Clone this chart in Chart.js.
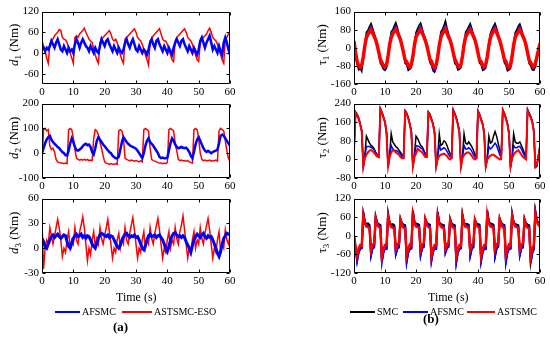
<!DOCTYPE html>
<html>
<head>
<meta charset="utf-8">
<script src="https://cdn.jsdelivr.net/npm/chart.js@4.4.1/dist/chart.umd.min.js"></script>
<style>
  body { margin: 0; background: #fff; }
  #wrap { position: relative; width: 550px; height: 342px; font-family: "Liberation Serif", serif; color: #000; }
  canvas { position: absolute; }
  .t { position: absolute; white-space: nowrap; line-height: 1; }
  .ln { position: absolute; height: 2px; }
</style>
</head>
<body>
<div id="wrap">
  <canvas id="d1" width="240" height="98" style="left:0;top:2px"></canvas>
  <canvas id="d2" width="240" height="100" style="left:0;top:94px"></canvas>
  <canvas id="d3" width="240" height="100" style="left:0;top:189px"></canvas>
  <canvas id="tau1" width="250" height="98" style="left:300px;top:2px"></canvas>
  <canvas id="tau2" width="250" height="100" style="left:300px;top:94px"></canvas>
  <canvas id="tau3" width="250" height="100" style="left:300px;top:189px"></canvas>

  <div class="t" style="left:116px;top:291px;font-size:12px">Time (s)</div>
  <div class="t" style="left:428px;top:291px;font-size:12px">Time (s)</div>

  <div class="ln" style="left:55px;top:311px;width:25px;background:#0000ff"></div>
  <div class="t" style="left:82px;top:307px;font-size:10px">AFSMC</div>
  <div class="ln" style="left:122px;top:311px;width:30px;background:#ff0000;height:1.5px"></div>
  <div class="t" style="left:154px;top:307px;font-size:10px">ASTSMC-ESO</div>

  <div class="ln" style="left:350px;top:311px;width:25px;background:#000"></div>
  <div class="t" style="left:377px;top:307px;font-size:10px">SMC</div>
  <div class="ln" style="left:403px;top:311px;width:25px;background:#0000ff"></div>
  <div class="t" style="left:430px;top:307px;font-size:10px">AFSMC</div>
  <div class="ln" style="left:467px;top:311px;width:28px;background:#ff0000"></div>
  <div class="t" style="left:497px;top:307px;font-size:10px">ASTSMC</div>

  <div class="t" style="left:113px;top:320px;font-size:13px;font-weight:bold">(a)</div>
  <div class="t" style="left:423px;top:312px;font-size:13px;font-weight:bold">(b)</div>
</div>

<script>
// sample step of the recorded signals (s)
var step = 0.5;

// left column: disturbance estimates
var d1AFSMC = [10,15,5,15,10,20,35,25,15,30,40,25,10,5,20,10,0,15,5,10,
  0,25,40,30,15,30,40,30,20,15,5,20,10,0,15,5,0,20,40,30,
  20,35,40,25,15,5,20,10,0,15,5,0,10,30,40,25,15,30,40,25,
  10,5,20,10,0,10,5,-5,10,30,40,25,15,35,40,25,15,5,20,10,
  0,15,5,-5,15,30,40,30,20,35,40,25,15,5,20,10,0,15,5,-5,
  10,35,45,30,15,30,40,50,30,10,20,10,0,20,5,-5,30,45,30,10,-5];
var d1ESO = [35,20,5,-15,-30,25,35,40,50,55,60,68,65,45,40,38,30,15,0,-15,
  -30,45,50,45,55,60,65,72,60,50,40,35,30,10,-5,-20,-30,30,40,45,
  50,55,60,65,55,40,35,40,30,10,-5,-20,-30,40,45,50,55,60,65,70,
  60,45,40,35,25,10,-5,-20,-35,35,40,50,55,60,65,70,55,40,35,35,
  25,10,-5,-20,-25,35,45,50,55,60,65,70,60,45,40,35,25,10,-5,-20,
  -25,30,40,45,50,55,65,72,60,45,40,35,25,10,-5,-20,-30,40,45,55,60];

var d2AFSMC = [0,20,40,55,65,70,55,45,38,32,25,20,12,5,0,-8,-10,10,40,60,
  45,25,12,10,15,20,28,35,38,32,35,25,5,-5,20,50,65,55,45,35,
  28,20,12,5,0,-10,-15,-20,-20,-15,15,45,65,55,45,38,32,28,25,22,
  18,10,0,-10,-20,0,30,50,60,45,38,30,20,10,0,-15,-20,-18,-20,-20,
  -18,10,40,60,50,35,25,20,22,25,22,20,22,15,5,-10,-20,5,35,55,
  65,50,35,20,10,5,10,5,0,5,8,10,15,40,70,75,70,60,50,40,30];
var d2ESO = [-40,95,100,90,95,30,15,20,5,-25,-35,-38,-40,-40,-42,-40,-42,95,100,95,
  60,15,-20,-25,-28,-25,-28,-25,-28,-25,-30,-28,-30,60,95,90,75,45,20,-10,
  -35,-40,-42,-45,-42,-45,-45,-42,-45,90,95,90,60,-20,-25,-28,-30,-28,-30,-32,
  -30,-32,-35,-30,-35,95,100,95,90,20,-25,-30,-32,-35,-38,-40,-40,-42,-40,-42,
  -38,95,100,95,90,40,10,-25,-30,-28,-30,-30,-32,-30,-35,-38,-40,95,100,95,
  60,0,-25,-30,-28,-30,-30,-28,-32,-30,-30,-28,-32,90,100,95,90,50,10,-20,-35];

var d3AFSMC = [12,8,2,0,5,10,14,16,13,15,17,14,12,14,16,15,8,2,0,6,
  12,15,17,14,15,17,13,15,12,15,14,10,5,2,0,6,12,16,18,17,
  15,14,16,13,15,14,10,6,2,0,4,10,14,17,18,15,13,15,14,16,
  13,14,10,5,0,-2,3,10,15,17,14,15,16,13,15,16,13,10,5,0,
  -4,2,10,15,18,19,16,14,15,13,15,13,8,4,0,-5,3,10,14,17,
  15,13,16,18,14,12,15,13,14,10,5,0,-6,-10,-4,5,12,15,18,17,16];
var d3ESO = [30,-25,0,10,5,25,15,5,15,25,35,25,10,-10,0,-5,10,20,0,10,
  5,25,10,5,20,28,38,25,5,-15,0,-8,10,20,2,12,5,25,12,5,
  15,25,35,20,5,-12,0,-5,10,18,0,10,5,25,10,5,18,28,37,22,
  5,-12,0,-5,10,20,0,10,5,25,12,5,18,27,36,22,5,-12,0,-5,
  10,20,0,10,5,25,12,5,20,28,39,22,5,-12,0,-5,10,20,0,10,
  5,25,12,5,18,27,36,22,5,-12,0,-5,10,20,-5,5,0,22,10,5,15];

// right column: control torques
var tau1SMC = [40,-25,
  -72,-98,-92,-105,-50,20,70,78,95,108,88,65,45,12,-30,-68,
  -80,-95,-100,-90,-45,25,72,80,98,112,90,62,40,10,-28,-70,
  -75,-100,-95,-88,-50,20,68,85,100,110,85,60,42,12,-25,-65,
  -78,-102,-108,-90,-48,18,70,82,98,120,88,62,42,10,-30,-70,
  -76,-98,-95,-88,-45,22,70,80,95,108,86,60,44,12,-28,-68,
  -75,-100,-96,-90,-50,18,65,82,96,108,88,62,40,10,-25,-66,
  -78,-102,-98,-92,-48,20,68,80,97,106,86,60,42,12,-30,-70,
  -80,-98,-100,-85,-50,-15,15];
var tau1AFSMC = [35,-22,
  -66,-88,-92,-82,-42,14,55,68,82,95,75,56,38,10,-24,-58,
  -70,-88,-90,-80,-40,18,56,70,85,98,78,56,37,9,-25,-62,
  -68,-88,-92,-80,-44,15,58,72,86,96,76,55,36,10,-22,-60,
  -68,-90,-100,-82,-44,14,56,72,85,100,76,55,38,10,-25,-60,
  -70,-88,-90,-80,-40,18,58,70,84,96,76,56,38,10,-25,-62,
  -68,-88,-90,-80,-45,14,54,72,85,96,78,56,36,9,-22,-60,
  -70,-90,-92,-84,-42,16,56,70,84,95,76,55,38,10,-26,-62,
  -72,-88,-90,-78,-45,-12,18];
var tau1ASTSMC = [30,-20,
  -60,-80,-85,-75,-40,10,45,60,70,80,65,50,35,10,-20,-50,
  -65,-80,-82,-75,-35,15,45,62,72,82,68,52,35,8,-22,-55,
  -62,-78,-85,-72,-38,12,48,60,70,80,66,50,32,10,-20,-52,
  -60,-82,-88,-75,-40,10,46,62,72,84,65,48,34,10,-20,-50,
  -64,-80,-84,-74,-36,14,47,60,72,80,66,52,35,10,-22,-55,
  -62,-78,-82,-72,-40,10,44,62,74,82,68,50,33,8,-20,-52,
  -60,-80,-86,-76,-38,12,46,60,70,80,66,50,35,10,-22,-54,
  -65,-80,-82,-70,-40,-10,20];

var tau2SMC = [45,
  205,195,180,155,125,-35,15,100,85,70,60,55,45,30,20,15,
  220,205,185,160,115,-35,20,110,75,65,55,50,40,30,20,15,
  210,200,180,155,120,-35,20,100,90,75,60,55,40,25,15,
  205,195,175,155,115,-35,15,110,60,65,80,75,60,40,25,15,
  215,200,180,155,120,-35,15,110,70,65,75,65,55,40,20,10,
  210,195,175,155,115,-35,10,100,70,75,100,120,100,70,40,15,
  215,200,180,155,115,-35,15,110,75,70,70,75,60,45,25,10,
  215,200,185,165,125,-35,-30,20,60];
var tau2AFSMC = [42,
  200,192,175,150,120,-30,10,55,55,55,52,48,40,30,20,12,
  215,200,180,160,112,-30,15,60,45,40,38,35,30,22,12,8,
  205,195,178,152,118,-30,15,60,58,55,50,45,35,20,12,
  200,190,172,152,112,-30,10,60,40,45,50,45,35,22,12,8,
  210,196,176,152,116,-30,10,60,45,45,50,45,35,22,10,6,
  205,192,172,152,112,-30,5,55,45,50,60,70,60,40,20,8,
  210,196,176,152,112,-30,10,60,50,50,55,55,45,30,15,5,
  210,196,182,162,122,-30,-25,15,55];
var tau2ASTSMC = [40,
  200,190,175,150,120,-30,5,20,30,38,40,35,28,20,12,10,
  215,200,180,160,110,-30,10,30,40,38,30,25,20,10,5,5,
  205,195,175,150,115,-30,10,25,45,40,35,30,20,10,10,
  200,190,170,150,110,-30,0,15,20,22,25,20,15,5,0,5,
  210,195,175,150,115,-30,5,20,25,30,30,25,15,5,0,5,
  205,190,170,150,110,-30,0,10,15,20,20,15,10,5,0,5,
  210,195,175,150,110,-30,5,20,30,35,40,30,20,10,5,0,
  210,195,180,160,120,-30,-20,10,50];

var tau3SMC = [0,-40,
  -78,-50,-40,-38,78,45,38,40,35,-62,-38,-35,62,42,38,35,
  -82,-48,-40,-42,72,42,36,38,34,-58,-40,-36,55,40,36,34,
  -80,-52,-42,-40,82,45,40,38,35,-60,-38,-35,56,42,38,36,
  -76,-50,-40,-42,76,44,38,36,34,-52,-38,-34,55,40,36,34,
  -82,-52,-42,-40,68,42,38,38,35,-62,-40,-36,52,40,38,35,
  -78,-50,-40,-42,82,46,40,38,36,-65,-40,-35,56,42,37,35,
  -80,-50,-42,-40,72,44,38,36,34,-60,-38,-36,55,40,36,34,
  -85,-55,-42,80,50,40,35];
var tau3AFSMC = [0,-38,
  -82,-55,-42,-40,72,45,35,33,30,-62,-40,-38,56,42,35,32,
  -85,-55,-42,-40,66,40,33,32,30,-58,-40,-38,50,38,33,30,
  -84,-55,-44,-42,76,44,36,34,32,-62,-40,-36,52,40,34,32,
  -80,-52,-42,-42,70,42,35,33,30,-55,-40,-36,52,38,33,30,
  -86,-55,-44,-40,64,40,34,34,31,-64,-42,-38,50,38,34,31,
  -82,-54,-42,-42,76,44,36,34,32,-65,-40,-36,52,40,34,32,
  -85,-55,-44,-42,68,42,35,33,30,-62,-40,-38,50,38,33,30,
  -88,-56,-44,78,50,38,32];
var tau3ASTSMC = [0,-35,
  -65,-40,-30,-32,65,40,30,28,25,-45,-28,-25,55,35,28,25,
  -68,-42,-30,-30,62,38,28,26,25,-42,-26,-25,50,32,26,24,
  -62,-40,-28,-32,68,42,30,28,26,-45,-28,-24,52,34,28,25,
  -65,-42,-30,-30,65,40,30,26,25,-40,-26,-25,50,32,26,24,
  -66,-40,-30,-32,62,38,28,28,25,-45,-28,-25,50,34,28,25,
  -64,-42,-30,-30,68,40,30,28,26,-42,-26,-24,52,34,27,25,
  -62,-40,-28,-30,64,40,30,28,25,-45,-28,-25,50,32,26,24,
  -68,-42,-30,70,45,35,30];

// y tick labels per panel
var d1Ticks = [120, 60, 0, -60];
var d2Ticks = [200, 100, 0, -100];
var d3Ticks = [60, 30, 0, -30];
var tau1Ticks = [160, 80, 0, -80, -160];
var tau2Ticks = [240, 160, 80, 0, -80];
var tau3Ticks = [120, 60, 0, -60, -120];
var timeTicks = [0, 10, 20, 30, 40, 50, 60];

var FONT = '"Liberation Serif", serif';

function pts(values) {
    return values.map(function (v, i) { return { x: i * step, y: v }; });
}

// box with inward tick marks, like the original figure
var frame = {
    id: 'frame',
    afterDatasetsDraw: function (chart) {
        var ctx = chart.ctx, a = chart.chartArea;
        var xs = chart.scales.x, ys = chart.scales.y;
        var l = Math.round(a.left) + 0.5, r = Math.round(a.right) - 0.5;
        var t = Math.round(a.top) + 0.5, b = Math.round(a.bottom) - 0.5;
        ctx.save();
        ctx.strokeStyle = '#000';
        ctx.lineWidth = 1;
        ctx.beginPath();
        ctx.rect(l, t, r - l, b - t);
        xs.ticks.forEach(function (tk) {
            var p = Math.round(xs.getPixelForValue(tk.value)) + 0.5;
            ctx.moveTo(p, b); ctx.lineTo(p, b - 3);
            ctx.moveTo(p, t); ctx.lineTo(p, t + 3);
        });
        ys.ticks.forEach(function (tk) {
            var p = Math.round(ys.getPixelForValue(tk.value)) + 0.5;
            ctx.moveTo(l, p); ctx.lineTo(l + 3, p);
            ctx.moveTo(r, p); ctx.lineTo(r - 3, p);
        });
        ctx.stroke();
        ctx.restore();
    }
};

// y axis title with a subscript, e.g. d1 (Nm)
var yTitle = {
    id: 'yTitle',
    afterDraw: function (chart, args, o) {
        var ctx = chart.ctx, a = chart.chartArea;
        var f1 = (o.italic ? 'italic ' : '') + '13px ' + FONT;
        var f2 = '9px ' + FONT;
        var f3 = '13px ' + FONT;
        ctx.save();
        ctx.translate(o.x, (a.top + a.bottom) / 2 - 3);
        ctx.rotate(-Math.PI / 2);
        ctx.fillStyle = '#000';
        ctx.font = f1; var w1 = ctx.measureText(o.sym).width;
        ctx.font = f2; var w2 = ctx.measureText(o.sub).width;
        ctx.font = f3; var w3 = ctx.measureText(' (Nm)').width;
        var x0 = -(w1 + w2 + w3) / 2;
        ctx.font = f1; ctx.fillText(o.sym, x0, 4); x0 += w1;
        ctx.font = f2; ctx.fillText(o.sub, x0, 7); x0 += w2;
        ctx.font = f3; ctx.fillText(' (Nm)', x0, 4);
        ctx.restore();
    }
};

function line(values, color, width, order) {
    return {
        data: pts(values),
        borderColor: color,
        borderWidth: width,
        pointRadius: 0,
        tension: 0,
        fill: false,
        order: order
    };
}

function makeChart(id, datasets, yMin, yMax, yTicks, axisW, title) {
    var ctx = document.getElementById(id).getContext('2d');
    return new Chart(ctx, {
        type: 'line',
        data: { datasets: datasets },
        plugins: [frame, yTitle],
        options: {
            responsive: false,
            animation: false,
            devicePixelRatio: 1,
            events: [],
            layout: { padding: { top: 8, right: 10, left: 0, bottom: 0 } },
            scales: {
                x: {
                    type: 'linear', min: 0, max: 60,
                    afterBuildTicks: function (s) { s.ticks = timeTicks.map(function (v) { return { value: v }; }); },
                    afterFit: function (s) { s.height = 16; },
                    grid: { display: false, drawTicks: false },
                    border: { display: false },
                    ticks: { color: '#000', padding: 2, maxRotation: 0, font: { family: FONT, size: 11 } }
                },
                y: {
                    min: yMin, max: yMax,
                    afterBuildTicks: function (s) { s.ticks = yTicks.map(function (v) { return { value: v }; }); },
                    afterFit: function (s) { s.width = axisW; },
                    grid: { display: false, drawTicks: false },
                    border: { display: false },
                    ticks: { color: '#000', padding: 3, font: { family: FONT, size: 11 } }
                }
            },
            plugins: {
                legend: { display: false },
                tooltip: { enabled: false },
                yTitle: title
            }
        }
    });
}

var BLUE = '#0000ff', RED = '#ff0000', BLACK = '#000000';

makeChart('d1', [line(d1AFSMC, BLUE, 2.5, 1), line(d1ESO, RED, 1.5, 2)],
    -90, 120, d1Ticks, 42, { x: 14, sym: 'd', sub: '1', italic: true });
makeChart('d2', [line(d2AFSMC, BLUE, 2.5, 1), line(d2ESO, RED, 1.5, 2)],
    -100, 200, d2Ticks, 42, { x: 14, sym: 'd', sub: '2', italic: true });
makeChart('d3', [line(d3AFSMC, BLUE, 3, 1), line(d3ESO, RED, 1.5, 2)],
    -30, 60, d3Ticks, 42, { x: 14, sym: 'd', sub: '3', italic: true });

makeChart('tau1', [line(tau1ASTSMC, RED, 3.5, 1), line(tau1AFSMC, BLUE, 1.5, 2), line(tau1SMC, BLACK, 1.5, 3)],
    -160, 160, tau1Ticks, 54, { x: 22, sym: '\u03c4', sub: '1', italic: false });
makeChart('tau2', [line(tau2ASTSMC, RED, 2, 1), line(tau2AFSMC, BLUE, 1.5, 2), line(tau2SMC, BLACK, 1.5, 3)],
    -80, 240, tau2Ticks, 54, { x: 22, sym: '\u03c4', sub: '2', italic: false });
makeChart('tau3', [line(tau3ASTSMC, RED, 2.5, 1), line(tau3AFSMC, BLUE, 2, 2), line(tau3SMC, BLACK, 2, 3)],
    -120, 120, tau3Ticks, 54, { x: 22, sym: '\u03c4', sub: '3', italic: false });
</script>
</body>
</html>
